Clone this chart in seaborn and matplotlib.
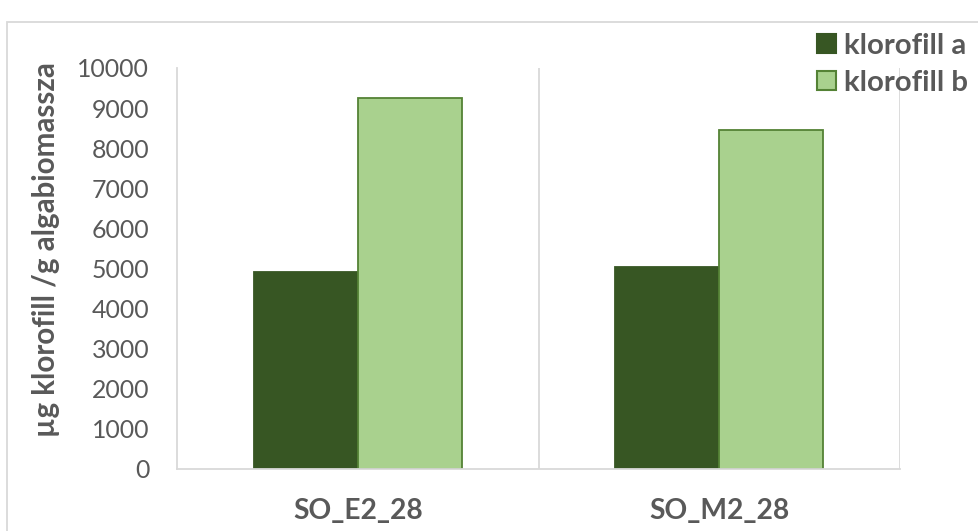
import pandas as pd
import matplotlib.pyplot as plt
import seaborn as sns
from matplotlib.patches import Rectangle

# data
samples = ['SO_E2_28', 'SO_M2_28']
series = ['klorofill a', 'klorofill b']
klorofill_a = [4920, 5040]
klorofill_b = [9240, 8450]

df = pd.DataFrame({
    'minta': samples * 2,
    'pigment': [series[0]] * 2 + [series[1]] * 2,
    'ertek': klorofill_a + klorofill_b,
})

sns.set_style('white')
plt.rcParams['font.family'] = ['Lato', 'DejaVu Sans']

fill_colors = {'klorofill a': '#375623', 'klorofill b': '#a9d18e'}
edge_colors = {'klorofill a': '#375623', 'klorofill b': '#548235'}
text_color = '#595959'
W, H = 979, 531

fig = plt.figure(figsize=(W / 100, H / 100), dpi=100)
ax = fig.add_axes([177 / W, 1 - 469 / H, (900 - 177) / W, (469 - 68) / H])

sns.barplot(data=df, x='minta', y='ertek', hue='pigment', palette=fill_colors,
            width=0.576, gap=0, ax=ax, legend=True, saturation=1)

# outline colours per series
for container, name in zip(ax.containers, series):
    for bar in container:
        bar.set_edgecolor(edge_colors[name])
        bar.set_linewidth(1.3)

ax.set_xlim(-0.5, 1.5)
ax.set_ylim(0, 10000)
ax.set_yticks(range(0, 10001, 1000))

# category separators
for xpos in [0.5, 1.5]:
    ax.axvline(xpos, color='#d9d9d9', lw=1.3, zorder=0)

for side in ['top', 'right']:
    ax.spines[side].set_visible(False)
for side in ['left', 'bottom']:
    ax.spines[side].set_color('#d9d9d9')
    ax.spines[side].set_linewidth(1.3)

ax.set_xlabel('')
ax.set_ylabel('')

# size the fonts so the texts get the widths they have in the reference
renderer = fig.canvas.get_renderer()


def fitted(size, weight, s, target_px, rotation=0):
    t = fig.text(0, 0, s, fontsize=size, fontweight=weight, rotation=rotation)
    bb = t.get_window_extent(renderer)
    t.remove()
    length = bb.height if rotation else bb.width
    return size * target_px / length


ytick_size = fitted(18, 'normal', '10000', 72)
xtick_size = fitted(19, 'bold', 'SO_E2_28', 130)
ylabel_size = fitted(20, 'bold', 'µg klorofill /g algabiomassza', 374, rotation=90)
legend_size = fitted(20, 'bold', 'klorofill a', 122)

ax.tick_params(axis='y', direction='in', length=7, width=1.3, color='#d9d9d9',
               labelsize=ytick_size, labelcolor=text_color, pad=20)
ax.tick_params(axis='x', length=0, labelsize=xtick_size, labelcolor=text_color, pad=21)
for lbl in ax.get_xticklabels():
    lbl.set_fontweight('bold')

fig.text(46 / W, 1 - 250 / H, 'µg klorofill /g algabiomassza', rotation=90,
         ha='center', va='center', fontsize=ylabel_size, fontweight='bold', color=text_color)

handles, labels = ax.get_legend_handles_labels()
ax.legend_.remove()
for h, name in zip(handles, series):
    h.set_edgecolor(edge_colors[name])
    h.set_linewidth(1.5)
fs_px = legend_size * 100 / 72
leg = fig.legend(handles, labels, loc='upper left', bbox_to_anchor=(817 / W, 1 - 33 / H),
                 frameon=False, handlelength=19 / fs_px, handleheight=19 / fs_px,
                 handletextpad=8 / fs_px, labelspacing=11 / fs_px, borderaxespad=0,
                 borderpad=0, prop={'size': legend_size, 'weight': 'bold'})
for t in leg.get_texts():
    t.set_color(text_color)

# chart area border (cut off at the right and bottom)
fig.patches.append(Rectangle((7 / W, -0.1), 2, 1.1 - 22 / H, transform=fig.transFigure,
                             fill=False, edgecolor='#d9d9d9', lw=1.3))

fig.savefig('out.png', dpi=100)
